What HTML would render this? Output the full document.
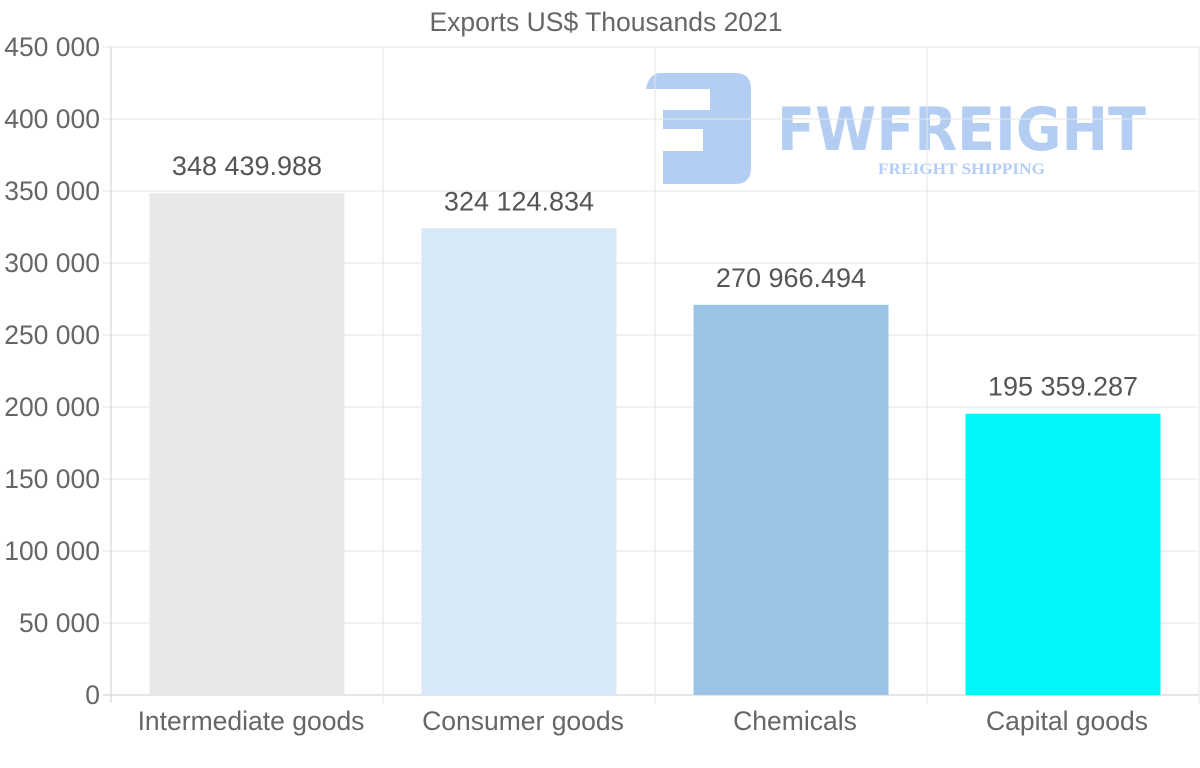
<!DOCTYPE html>
<html><head><meta charset="utf-8"><style>
body{margin:0;background:#fff;}
svg text{font-family:"Liberation Sans",sans-serif;}
</style></head><body>
<svg id="chart" width="1200" height="763" xmlns="http://www.w3.org/2000/svg">
<g id="logo" fill="#b3cdf3">
<path d="M658 73 H735 Q751 73 751 89 V168 Q751 184 735 184 H663 V151 H703 V129 H663 V110 H710 V89 H646 Q648 76 658 73 Z"/>
<text x="777" y="150" font-size="60" font-weight="bold" textLength="369" lengthAdjust="spacingAndGlyphs" style="font-family:'DejaVu Sans','Liberation Sans',sans-serif">FWFREIGHT</text>
<text x="878" y="174" font-size="16" font-weight="bold" textLength="167" lengthAdjust="spacingAndGlyphs" style="font-family:'Liberation Serif',serif">FREIGHT SHIPPING</text>
</g>
<text x="606" y="31" font-size="26.5" fill="#666" text-anchor="middle">Exports US$ Thousands 2021</text>
<g id="grid"></g><g id="bars"></g><g id="labels"></g>
</svg>
<script>
const categories=["Intermediate goods","Consumer goods","Chemicals","Capital goods"];
const values=[348439.988,324124.834,270966.494,195359.287];
const valueLabels=["348 439.988","324 124.834","270 966.494","195 359.287"];
const colors=["#e8e8e8","#d7e8f9","#9bc3e6","#00f7f7"];
const yTicks=[0,50000,100000,150000,200000,250000,300000,350000,400000,450000];
const yTickLabels=["0","50 000","100 000","150 000","200 000","250 000","300 000","350 000","400 000","450 000"];
const L=111,R=1199,T=47,B=695,yMax=450000;
const y=v=>B-(v/yMax)*(B-T);
const band=(R-L)/categories.length;
const x=i=>L+band*(i+0.5);
const NS="http://www.w3.org/2000/svg";
function mk(t,a,p){const e=document.createElementNS(NS,t);for(const k in a)e.setAttribute(k,a[k]);p.appendChild(e);return e;}
const g=document.getElementById('grid'),bg=document.getElementById('bars'),lg=document.getElementById('labels');
yTicks.forEach((v,i)=>{
 const ln=mk('line',{x1:L-8,x2:R,y1:y(v),y2:y(v),stroke:i==0?'#ccc':'#e6e6e6'},g);
 
 
 const t=mk('text',{x:L-11,y:y(v)+9,'font-size':26.5,fill:'#666','text-anchor':'end'},g);t.textContent=yTickLabels[i];
 
 
});
for(let i=0;i<=categories.length;i++){
 const xx=L+band*i;
 const ln=mk('line',{x1:xx,x2:xx,y1:T,y2:B+8,stroke:i==0?'#ccc':'#e6e6e6'},g);
 
 
}
categories.forEach((c,i)=>{
 const w=195;
 const r=mk('rect',{x:x(i)-w/2,y:y(values[i]),width:w,height:B-y(values[i]),fill:colors[i]},bg);
 
 
 const t=mk('text',{x:x(i),y:y(values[i])-18,'font-size':27,fill:'#555','text-anchor':'middle'},lg);t.textContent=valueLabels[i];
 
 
 const c2=mk('text',{x:x(i)+4,y:730,'font-size':26.5,fill:'#666','text-anchor':'middle'},lg);c2.textContent=c;
 
 
});
</script>
</body></html>
